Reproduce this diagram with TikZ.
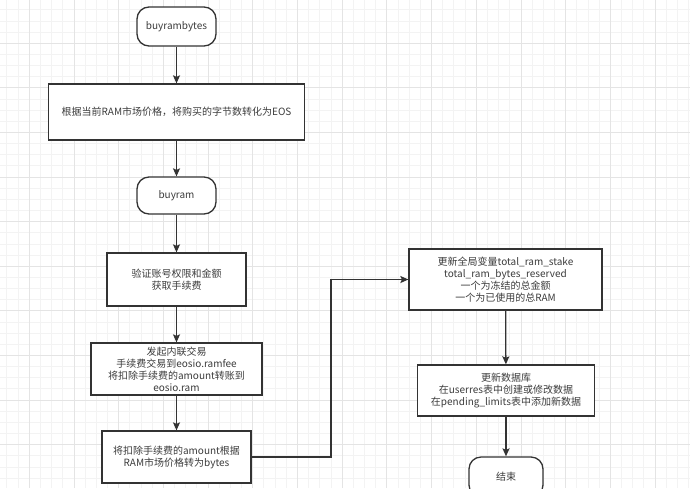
\documentclass[tikz,border=0pt]{standalone}
\usepackage{fontspec}
\newfontfamily\cjk{Noto Sans CJK SC}
\usepackage{tikz}
\usetikzlibrary{arrows.meta,positioning}
\definecolor{linegrey}{RGB}{51,51,51}
\definecolor{textgrey}{RGB}{60,60,60}
\definecolor{gridminor}{RGB}{243,243,243}
\definecolor{gridmajor}{RGB}{228,228,228}

\begin{document}
\begin{tikzpicture}[x=1pt, y=-1pt,
    box/.style={draw=linegrey, line width=1.3pt, fill=white, align=center,
        inner sep=0pt, text=textgrey, font=\cjk\fontsize{10}{12}\selectfont},
    term/.style={box, rounded corners=12pt},
    flow/.style={draw=linegrey, line width=1.3pt, -{Stealth[length=8pt,width=7pt,inset=1.5pt]}},
]
    \useasboundingbox (0,0) rectangle (690,488);
    \clip (0,0) rectangle (690,488);
    \fill[white] (0,0) rectangle (690,488);

    % background grid
    \foreach \k in {-2,...,59} {
        \draw[gridminor, line width=1pt] (29.3+11.175*\k, 0) -- (29.3+11.175*\k, 488);
    }
    \foreach \k in {-3,...,40} {
        \draw[gridminor, line width=1pt] (0, 43.3+11.15*\k) -- (690, 43.3+11.15*\k);
    }
    \foreach \k in {0,...,14} {
        \draw[gridmajor, line width=1pt] (29.3+44.7*\k, 0) -- (29.3+44.7*\k, 488);
    }
    \foreach \k in {0,...,10} {
        \draw[gridmajor, line width=1pt] (0, 43.3+44.6*\k) -- (690, 43.3+44.6*\k);
    }

    % left column
    \node[term, minimum width=79pt, minimum height=39pt] (start) at (176.5, 26.5) {buyrambytes};
    \node[box, minimum width=256pt, minimum height=56pt] (toeos) at (176.5, 112) {根据当前RAM市场价格，将购买的字节数转化为EOS};
    \node[term, minimum width=79pt, minimum height=37pt] (buyram) at (176.5, 195.5) {buyram};
    \node[box, minimum width=139pt, minimum height=53pt] (verify) at (176.5, 279.5) {验证账号权限和金额\\获取手续费};
    \node[box, minimum width=171pt, minimum height=52pt] (inline) at (176.5, 369) {发起内联交易\\手续费交易到eosio.ramfee\\将扣除手续费的amount转账到\\eosio.ram};
    \node[box, minimum width=149pt, minimum height=52pt] (tobytes) at (176.5, 457) {将扣除手续费的amount根据\\RAM市场价格转为bytes};

    % right column
    \node[box, minimum width=193pt, minimum height=61pt] (global) at (505.5, 279.5) {更新全局变量total\_ram\_stake\\total\_ram\_bytes\_reserved\\一个为冻结的总金额\\一个为已使用的总RAM};
    \node[box, minimum width=177pt, minimum height=51pt] (db) at (506, 390.5) {更新数据库\\在userres表中创建或修改数据\\在pending\_limits表中添加新数据};
    \node[term, minimum width=74pt, minimum height=40pt] (finish) at (506, 477) {结束};

    \coordinate (bend) at (331, 457);

    \draw[flow] (start) -- (toeos);
    \draw[flow] (toeos) -- (buyram);
    \draw[flow] (buyram) -- (verify);
    \draw[flow] (verify) -- (inline);
    \draw[flow] (inline) -- (tobytes);
    \draw[flow] (tobytes.east) -- (bend) |- (global.west);
    \draw[flow] (global) -- (db);
    \draw[flow] (db) -- (finish);
\end{tikzpicture}
\end{document}
